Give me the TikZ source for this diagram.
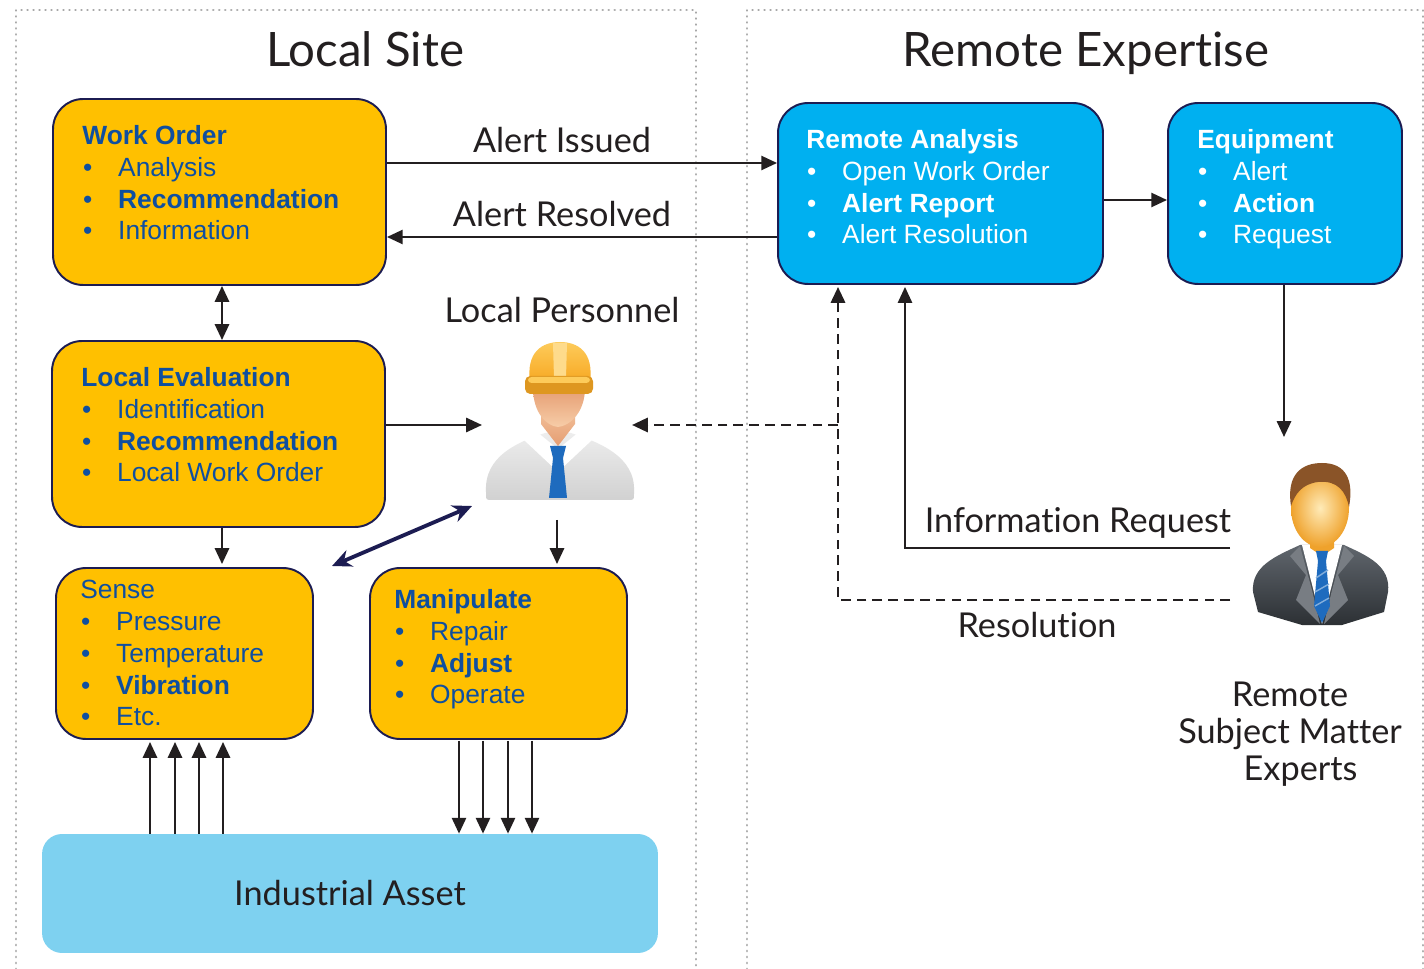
\documentclass[tikz,border=0pt]{standalone}
\usepackage{fontspec}
\setmainfont{Liberation Sans}
\newfontfamily\lblfont[Ligatures={NoCommon,NoRequired,NoContextual}]{Lato}
\usetikzlibrary{arrows.meta,calc,shapes.geometric}

\definecolor{boxyellow}{HTML}{FFC000}
\definecolor{boxcyan}{HTML}{00B0F0}
\definecolor{assetblue}{HTML}{7ED1F0}
\definecolor{edgenavy}{HTML}{1C1C52}
\definecolor{textblue}{HTML}{0F4FA0}
\definecolor{inkdark}{HTML}{231F20}
\definecolor{dotgray}{HTML}{A8A8A8}
\definecolor{hatorange}{HTML}{F7A823}
\definecolor{hatlight}{HTML}{FDCB5A}
\definecolor{skinA}{HTML}{F7CDA8}
\definecolor{skinB}{HTML}{E59D72}
\definecolor{tieblue}{HTML}{1E6BBE}
\definecolor{suitA}{HTML}{60666D}
\definecolor{suitB}{HTML}{2C3034}
\definecolor{hairbrown}{HTML}{8A5428}
\definecolor{faceA}{HTML}{FFEBB8}
\definecolor{faceB}{HTML}{EFA22C}

% bullet item: bullet indented, text on a fixed tab
\newcommand{\bitem}[1]{\makebox[20.4pt][l]{\hspace{0.4pt}\textbullet}#1}

\tikzset{
  panel/.style={draw=dotgray, line width=1.6pt, dash pattern=on 0.01pt off 3.4pt, line cap=round},
  ybox/.style={draw=edgenavy, line width=1.1pt, fill=boxyellow, rounded corners=0.6cm, inner sep=0pt},
  cbox/.style={draw=edgenavy, line width=1.1pt, fill=boxcyan, rounded corners=0.6cm, inner sep=0pt},
  boxtext/.style={anchor=north west, inner sep=0pt, align=left,
    font=\fontsize{15}{18.1}\selectfont},
  lbl/.style={inner sep=0pt, text=inkdark, font=\lblfont\fontsize{19.5}{21}\selectfont},
  ttl/.style={inner sep=0pt, anchor=base, text=inkdark, font=\lblfont\fontsize{27}{30}\selectfont},
  arr/.style={draw=inkdark, line width=1.4pt, -{Triangle[length=9pt,width=8pt]}},
  darr/.style={draw=inkdark, line width=1.4pt, {Triangle[length=9pt,width=8pt]}-{Triangle[length=9pt,width=8pt]}},
  dashline/.style={draw=inkdark, line width=1.6pt, dash pattern=on 5.5pt off 3.5pt},
  icon/.style={inner sep=0pt, outer sep=0pt}
}

\begin{document}
\begin{tikzpicture}[x=0.02cm, y=-0.02cm]
\useasboundingbox[fill=white] (0,0) rectangle (1424,969);

% ---- dotted panels ----
\draw[panel] (16,975) -- (16,10) -- (696,10) -- (696,975);
\draw[panel] (747,975) -- (747,10) -- (1423,10) -- (1423,975);

% ---- titles ----
\node[ttl] (tLocal) at (365,67) {Local Site};
\node[ttl] (tRemote) at (1086,67) {Remote Expertise};

% ---- boxes ----
\node[ybox, minimum width=6.66cm, minimum height=3.72cm] (WO) at (219.5,192) {};
\node[ybox, minimum width=6.66cm, minimum height=3.72cm] (LE) at (218.5,434) {};
\node[ybox, minimum width=5.14cm, minimum height=3.42cm] (SE) at (184.5,653.5) {};
\node[ybox, minimum width=5.14cm, minimum height=3.42cm] (MA) at (498.5,653.5) {};
\node[cbox, minimum width=6.5cm, minimum height=3.62cm] (RA) at (940.5,193.5) {};
\node[cbox, minimum width=4.68cm, minimum height=3.62cm] (EQ) at (1285,193.5) {};
\node[fill=assetblue, rounded corners=0.4cm, inner sep=0pt,
      minimum width=12.32cm, minimum height=2.38cm] (AS) at (350,893.5) {};
\node[lbl] (asText) at (350,893) {Industrial Asset};

% ---- box texts ----
\node[boxtext, text=textblue] (woText) at (82,125)
  {\textbf{Work Order}\\\bitem{Analysis}\\\bitem{\textbf{Recommendation}}\\\bitem{Information}};
\node[boxtext, text=textblue] (leText) at (81,367)
  {\textbf{Local Evaluation}\\\bitem{Identification}\\\bitem{\textbf{Recommendation}}\\\bitem{Local Work Order}};
\node[boxtext, text=textblue] (seText) at (80,580)
  {Sense\\\bitem{Pressure}\\\bitem{Temperature}\\\bitem{\textbf{Vibration}}\\\bitem{Etc.}};
\node[boxtext, text=textblue] (maText) at (394,589)
  {\textbf{Manipulate}\\\bitem{Repair}\\\bitem{\textbf{Adjust}}\\\bitem{Operate}};
\node[boxtext, text=white] (raText) at (806,129)
  {\textbf{Remote Analysis}\\\bitem{Open Work Order}\\\bitem{\textbf{Alert Report}}\\\bitem{Alert Resolution}};
\node[boxtext, text=white] (eqText) at (1197,129)
  {\textbf{Equipment}\\\bitem{Alert}\\\bitem{\textbf{Action}}\\\bitem{Request}};

% ---- local personnel icon (hard hat) ----
\node[icon, minimum width=2.96cm, minimum height=3.6cm] (worker) at (558,430) {};
\shade[top color=white!93!black, bottom color=white!82!black]
  (486,492) .. controls (484,456) and (518,442) .. (545,433) -- (571,433)
  .. controls (598,442) and (636,456) .. (634,492) -- (634,494)
  .. controls (634,500) .. (627,500) -- (493,500) .. controls (486,500) .. (486,494) -- cycle;
\fill[white] (532,428) -- (558,449) -- (584,428) -- (592,440) -- (560,470) -- (556,470) -- (524,440) -- cycle;
\shade[top color=skinA, bottom color=skinB]
  (541,398) -- (541,424) -- (558,446) -- (575,424) -- (575,398) -- cycle;
\shade[top color=skinB, bottom color=skinA]
  (533,388) .. controls (533,412) and (546,426) .. (558,427)
  .. controls (570,426) and (585,412) .. (585,388) -- cycle;
\fill[tieblue] (550,446) -- (566,446) -- (563,458) -- (553,458) -- cycle;
\fill[tieblue] (553,458) -- (549,498) -- (567,498) -- (563,458) -- cycle;
\shade[top color=hatlight, bottom color=hatorange]
  (530,382) .. controls (526,352) and (542,342) .. (560,342)
  .. controls (578,342) and (594,352) .. (590,382) -- cycle;
\fill[hatlight!70!white] (553,343) -- (567,343) -- (566,378) -- (554,378) -- cycle;
\fill[hatorange!90!black, rounded corners=3pt] (525,376) rectangle (593,394);
\fill[hatlight, rounded corners=2pt] (528,377) rectangle (590,383);

% ---- remote expert icon ----
\node[icon, minimum width=2.84cm, minimum height=3.76cm] (expert) at (1321,534) {};
\shade[top color=suitA, bottom color=suitB]
  (1253,592) .. controls (1251,566) and (1276,556) .. (1300,545) -- (1344,545)
  .. controls (1368,556) and (1391,566) .. (1388,592) -- (1384,612)
  -- (1342,625) -- (1302,625) -- (1258,612) -- cycle;
\fill[white] (1302,545) -- (1322,624) -- (1342,545) -- cycle;
\fill[suitA!85!white] (1300,546) -- (1312,590) -- (1320,624) -- (1296,600) -- (1306,575) -- (1290,556) -- cycle;
\fill[suitA!85!white] (1344,546) -- (1332,590) -- (1324,624) -- (1348,600) -- (1338,575) -- (1354,556) -- cycle;
\fill[faceB] (1310,536) -- (1310,548) -- (1322,556) -- (1334,548) -- (1334,536) -- cycle;
\fill[tieblue] (1316,551) -- (1328,551) -- (1326,561) -- (1318,561) -- cycle;
\fill[tieblue] (1318,561) -- (1314,606) -- (1322,623) -- (1330,606) -- (1326,561) -- cycle;
\draw[tieblue!55!white, line width=0.8pt] (1316,578) -- (1328,570) (1315,592) -- (1329,584) (1315,606) -- (1329,598);
\shade[inner color=faceA, outer color=faceB] (1320,508) ellipse [x radius=29, y radius=39];
\fill[hairbrown]
  (1291,506) .. controls (1286,474) and (1302,463) .. (1322,463)
  .. controls (1346,463) and (1354,480) .. (1349,507)
  .. controls (1346,492) and (1338,480) .. (1318,482)
  .. controls (1302,484) and (1295,494) .. (1291,506) -- cycle;

% ---- labels ----
\node[lbl] (lIssued) at (562,140) {Alert Issued};
\node[lbl] (lResolved) at (562,214) {Alert Resolved};
\node[lbl] (lPersonnel) at (562,310) {Local Personnel};
\node[lbl] (lInfo) at (1078,523) {Information Request};
\node[lbl] (lResolution) at (1037,625) {Resolution};
\node[lbl, align=center, font=\lblfont\fontsize{19.5}{21}\selectfont] (lExperts) at (1290,734)
  {Remote\\Subject Matter\\\hspace*{12pt}Experts};

% ---- helper coordinates ----
\coordinate (yIss) at (0,163);
\coordinate (yRes) at (0,237);
\coordinate (yPer) at (0,425);
\coordinate (yEqA) at (0,200);
\coordinate (xMid) at (222,0);
\coordinate (xDown) at (557,0);
\coordinate (xEqD) at (1284,0);
\coordinate (xInfo) at (905,0);
\coordinate (xDash) at (838,0);
\coordinate (infoEnd) at (1230,548);
\coordinate (resEnd) at (1230,600);
\coordinate (navyA) at (332,566);
\coordinate (navyB) at (472,506);

% ---- connectors ----
\draw[arr] (WO.east |- yIss) -- (RA.west |- yIss);
\draw[arr] (RA.west |- yRes) -- (WO.east |- yRes);
\draw[arr] (RA.east |- yEqA) -- (EQ.west |- yEqA);
\draw[darr] (xMid |- WO.south) -- (xMid |- LE.north);
\draw[arr] (xMid |- LE.south) -- ($(xMid |- SE.north)+(0,-3)$);
\draw[arr] (LE.east |- yPer) -- ($(worker.west |- yPer)+(-2,0)$);
\draw[arr] (xDown |- worker.south) -- ($(xDown |- MA.north)+(0,-3)$);
\draw[arr] (xEqD |- EQ.south) -- ($(xEqD |- expert.north)+(0,-3)$);
\draw[draw=inkdark, line width=1.2pt, -{Triangle[length=9pt,width=8pt]}] (infoEnd) -| ($(xInfo |- RA.south)+(0,2)$);
\draw[dashline, -{Triangle[length=9pt,width=8pt]}] (resEnd) -| ($(xDash |- RA.south)+(0,2)$);
\draw[dashline, -{Triangle[length=9pt,width=8pt]}] (xDash |- yPer) -- (worker.east |- yPer);
\draw[draw=edgenavy, line width=2.2pt, {Stealth[length=11pt,width=10pt]}-{Stealth[length=11pt,width=10pt]}] (navyA) -- (navyB);
\foreach \xx in {150,175,199,223}
  \draw[arr] (\xx,0 |- AS.north) -- ($(\xx,0 |- SE.south)+(0,2)$);
\foreach \xx in {459,483,508,532}
  \draw[arr] ($(\xx,0 |- MA.south)+(0,1)$) -- (\xx,0 |- AS.north);
\end{tikzpicture}
\end{document}
